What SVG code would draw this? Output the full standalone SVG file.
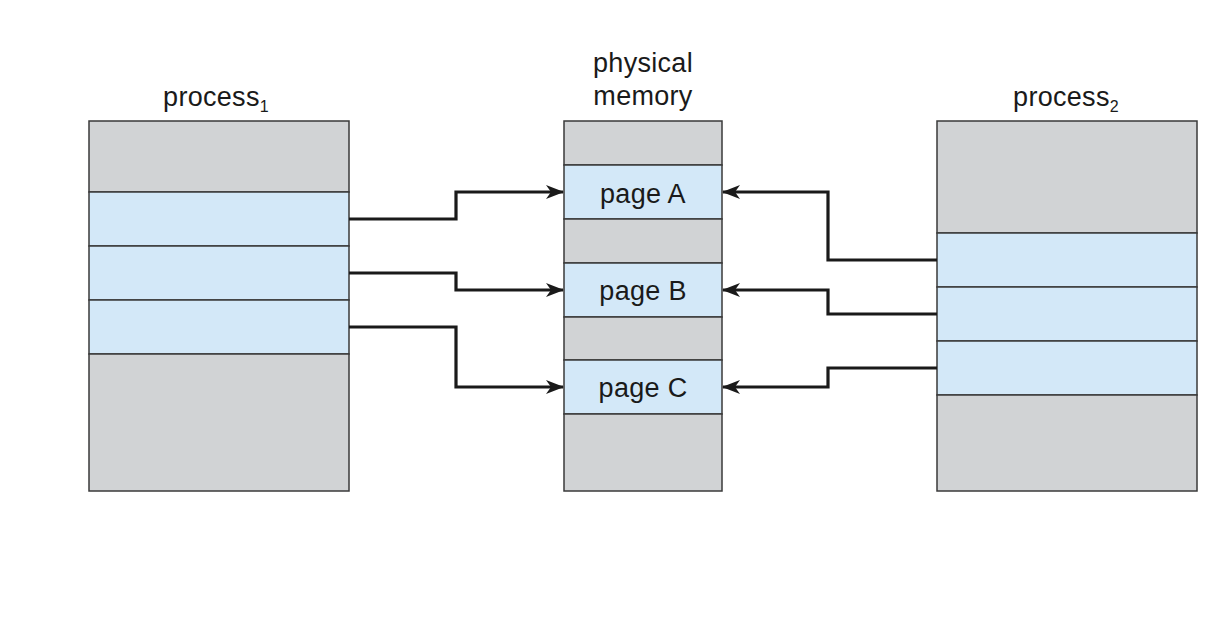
<svg xmlns="http://www.w3.org/2000/svg" width="1220" height="629" viewBox="0 0 1220 629">
<defs>
<style>
.g{fill:#d1d3d5;stroke:#3a3a3a;stroke-width:1.5}
.b{fill:#d3e8f8;stroke:#3a3a3a;stroke-width:1.5}
.t{font-family:"Liberation Sans",Arial,sans-serif;font-size:27px;letter-spacing:0.3px;fill:#1a1a1a;text-anchor:middle}
.c{fill:none;stroke:#1a1a1a;stroke-width:3.2}
</style>
<marker id="ah" viewBox="0 0 18 14" refX="17" refY="7" markerWidth="18" markerHeight="14" markerUnits="userSpaceOnUse" orient="auto">
<path d="M0,0 L18,7 L0,14 L5,7 Z" fill="#1a1a1a"/>
</marker>
</defs>
<rect width="1220" height="629" fill="#ffffff"/>
<g id="process1">
<text class="t" x="216" y="106">process<tspan font-size="16" dy="6">1</tspan></text>
<rect class="g" x="89" y="121" width="260" height="71"/>
<rect class="b" x="89" y="192" width="260" height="54"/>
<rect class="b" x="89" y="246" width="260" height="54"/>
<rect class="b" x="89" y="300" width="260" height="54"/>
<rect class="g" x="89" y="354" width="260" height="137"/>
</g>
<g id="physical-memory">
<text class="t" x="643" y="72">physical</text>
<text class="t" x="643" y="105">memory</text>
<rect class="g" x="564" y="121" width="158" height="44"/>
<rect class="b" x="564" y="165" width="158" height="54"/>
<rect class="g" x="564" y="219" width="158" height="44"/>
<rect class="b" x="564" y="263" width="158" height="54"/>
<rect class="g" x="564" y="317" width="158" height="43"/>
<rect class="b" x="564" y="360" width="158" height="54"/>
<rect class="g" x="564" y="414" width="158" height="77"/>
<text class="t" x="643" y="203">page A</text>
<text class="t" x="643" y="300">page B</text>
<text class="t" x="643" y="397">page C</text>
</g>
<g id="process2">
<text class="t" x="1066" y="106">process<tspan font-size="16" dy="6">2</tspan></text>
<rect class="g" x="937" y="121" width="260" height="112"/>
<rect class="b" x="937" y="233" width="260" height="54"/>
<rect class="b" x="937" y="287" width="260" height="54"/>
<rect class="b" x="937" y="341" width="260" height="54"/>
<rect class="g" x="937" y="395" width="260" height="96"/>
</g>
<g id="connectors">
<polyline class="c" points="349,219 456,219 456,192 563,192" marker-end="url(#ah)"/>
<polyline class="c" points="349,273 456,273 456,290 563,290" marker-end="url(#ah)"/>
<polyline class="c" points="349,327 456,327 456,387 563,387" marker-end="url(#ah)"/>
<polyline class="c" points="937,260 828,260 828,192 723,192" marker-end="url(#ah)"/>
<polyline class="c" points="937,314 828,314 828,290 723,290" marker-end="url(#ah)"/>
<polyline class="c" points="937,368 828,368 828,387 723,387" marker-end="url(#ah)"/>
</g>
</svg>
